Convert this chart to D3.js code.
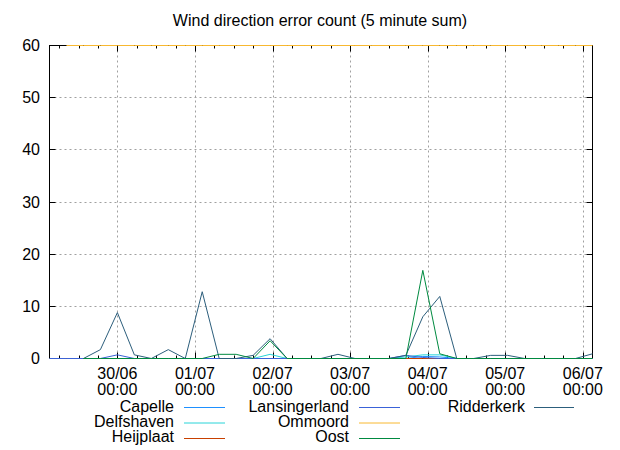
<!DOCTYPE html>
<html>
<head>
<meta charset="utf-8">
<script src="https://cdn.jsdelivr.net/npm/d3@7"></script>
<style>
  html, body { margin: 0; padding: 0; background: #fff; }
  svg { display: block; font-family: "Liberation Sans", Arial, sans-serif; }
</style>
</head>
<body>
<svg id="chart" width="620" height="450"></svg>
<script>
const title = "Wind direction error count (5 minute sum)";

const times = [
  "2015-06-29 03:00","2015-06-29 08:15","2015-06-29 13:30","2015-06-29 18:45",
  "2015-06-30 00:00","2015-06-30 05:15","2015-06-30 10:30","2015-06-30 15:45",
  "2015-06-30 21:00","2015-07-01 02:15","2015-07-01 07:30","2015-07-01 12:45",
  "2015-07-01 18:00","2015-07-01 23:15","2015-07-02 04:30","2015-07-02 09:45",
  "2015-07-02 15:00","2015-07-02 20:15","2015-07-03 01:30","2015-07-03 06:45",
  "2015-07-03 12:00","2015-07-03 17:15","2015-07-03 22:30","2015-07-04 03:45",
  "2015-07-04 09:00","2015-07-04 14:15","2015-07-04 19:30","2015-07-05 00:45",
  "2015-07-05 06:00","2015-07-05 11:15","2015-07-05 16:30","2015-07-05 21:45",
  "2015-07-06 03:00"
];

const seriesNames = ["Capelle","Delfshaven","Heijplaat","Lansingerland","Ommoord","Oost","Ridderkerk"];
const seriesColors = ["#1e90ff","#28d4d8","#c84000","#3a62d8","#f8b830","#008a40","#2c5e7c"];

// one value per entry of `times` (4 per row)
const capelle = [
  0,0,0,0,  0,0,0,0,  0,0,0,0,  0,0,0,0,
  0,0,0,0,  0,0,0.4,0.3,  0,0,0,0,  0,0,0,0,
  0];
const delfshaven = [
  0,0,0,0,  0,0,0,0,  0,0,0,0,  0,0.8,0,0,
  0,0,0,0,  0,0.3,0.7,0.7,  0,0,0,0,  0,0,0,0,
  0];
const heijplaat = [
  0,0,0,0,  0,0,0,0,  0,0,0,0,  0,0,0,0,
  0,0,0,0,  0,0,0,0,  0,0,0,0,  0,0,0,0,
  0];
const lansingerland = [
  0,0,0,0,  0.7,0,0,0,  0,0,0,0,  0,0,0,0,
  0,0,0,0,  0,0.6,0.2,0,  0,0,0,0,  0,0,0,0,
  0];
const ommoord = [
  null,60,60,60,  60,60,60,60,  60,60,60,60,  60,60,60,60,
  60,60,60,60,  60,60,60,60,  60,60,60,60,  60,60,60,60,
  60];
const oost = [
  null,null,0,0,  0,0,0,0,  0,0,0.8,0.8,  0,3.4,0,0,
  0,0,0,0,  0,0,16.9,0.9,  0,0,0,0,  0,0,0,0,
  0];
const ridderkerk = [
  null,null,0,1.7,  8.8,0.7,0,1.7,  0,12.8,0,0,  0.6,3.8,0,0,
  0,0.8,0,0,  0,0.6,8,11.9,  0,0,0.6,0.6,  0,0,0,0,
  0.9];

const yTicks = [0,10,20,30,40,50,60];

const seriesValues = [capelle, delfshaven, heijplaat, lansingerland, ommoord, oost, ridderkerk];
// drawing order (Oost after Ridderkerk so it sits on the baseline; Ommoord over the top frame)
const drawOrder = [0,1,2,3,6,5,4];

const parse = d3.timeParse("%Y-%m-%d %H:%M");
const dates = times.map(parse);

const svg = d3.select("#chart");
const L = 49.5, R = 592.5, T = 45.5, B = 358.5;

const x = d3.scaleTime().domain([dates[0], dates[dates.length - 1]]).range([L, R]);
const y = d3.scaleLinear().domain([0, 60]).range([B, T]);

// title
svg.append("text").attr("x", 320).attr("y", 26).attr("text-anchor", "middle")
  .attr("font-size", 16).attr("fill", "#000").text(title);

// grid
const dayTicks = d3.timeDay.range(d3.timeDay.ceil(dates[0]), dates[dates.length - 1]);
const minorTicks = d3.timeHour.every(6).range(dates[0], dates[dates.length - 1])
  .filter(d => d.getHours() !== 0);

const grid = svg.append("g").attr("stroke", "#a0a0a0").attr("stroke-width", 1)
  .attr("stroke-dasharray", "2,3");
dayTicks.forEach(d => {
  const xp = Math.round(x(d)) + 0.5;
  grid.append("line").attr("x1", xp).attr("x2", xp).attr("y1", T).attr("y2", B);
});
yTicks.filter(v => v > 0 && v < 60).forEach(v => {
  const yp = Math.round(y(v) - 0.5) + 0.5;
  grid.append("line").attr("x1", L).attr("x2", R).attr("y1", yp).attr("y2", yp);
});

// frame
svg.append("rect").attr("x", L).attr("y", T).attr("width", R - L).attr("height", B - T)
  .attr("fill", "none").attr("stroke", "#000").attr("stroke-width", 1);

// ticks (inward, mirrored)
const tk = svg.append("g").attr("stroke", "#000").attr("stroke-width", 1);
dayTicks.forEach(d => {
  const xp = Math.round(x(d)) + 0.5;
  tk.append("line").attr("x1", xp).attr("x2", xp).attr("y1", B).attr("y2", B - 6);
  tk.append("line").attr("x1", xp).attr("x2", xp).attr("y1", T).attr("y2", T + 6);
});
minorTicks.forEach(d => {
  const xp = Math.round(x(d)) + 0.5;
  tk.append("line").attr("x1", xp).attr("x2", xp).attr("y1", B).attr("y2", B - 3);
  tk.append("line").attr("x1", xp).attr("x2", xp).attr("y1", T).attr("y2", T + 3);
});
yTicks.forEach(v => {
  const yp = Math.round(y(v) - 0.5) + 0.5;
  tk.append("line").attr("x1", L).attr("x2", L + 6).attr("y1", yp).attr("y2", yp);
  tk.append("line").attr("x1", R).attr("x2", R - 6).attr("y1", yp).attr("y2", yp);
});

// y labels
const fmtD = d3.timeFormat("%d/%m"), fmtT = d3.timeFormat("%H:%M");
yTicks.forEach(v => {
  svg.append("text").attr("x", 40).attr("y", y(v) + 5.5).attr("text-anchor", "end")
    .attr("font-size", 16).text(v);
});
// x labels
dayTicks.forEach(d => {
  const t = svg.append("text").attr("text-anchor", "middle").attr("font-size", 16);
  t.append("tspan").attr("x", x(d)).attr("y", 379).text(fmtD(d));
  t.append("tspan").attr("x", x(d)).attr("y", 394.5).text(fmtT(d));
});

// series lines
const line = d3.line()
  .defined(d => d.v != null && !isNaN(d.v))
  .x(d => x(d.t)).y(d => y(d.v));
const lines = svg.append("g");
drawOrder.forEach(i => {
  const vals = seriesValues[i];
  const data = dates.map((t, j) => ({t: t, v: (j < vals.length ? vals[j] : null)}));
  lines.append("path").datum(data).attr("d", line).attr("fill", "none")
    .attr("stroke", seriesColors[i]).attr("stroke-width", 1);
});

// legend
const legendCols = [[0,1,2],[3,4,5],[6]];
const colTextX = [174, 349, 525];
const colLineX = [[184, 225], [359, 400], [534, 574]];
const rowBase = [412, 427, 442];
const rowLine = [407.5, 423, 438.5];
legendCols.forEach((col, c) => {
  col.forEach((i, r) => {
    svg.append("text").attr("x", colTextX[c]).attr("y", rowBase[r]).attr("text-anchor", "end")
      .attr("font-size", 16).text(seriesNames[i]);
    svg.append("line").attr("x1", colLineX[c][0]).attr("x2", colLineX[c][1])
      .attr("y1", rowLine[r]).attr("y2", rowLine[r])
      .attr("stroke", seriesColors[i]).attr("stroke-width", 1);
  });
});
</script>
</body>
</html>
